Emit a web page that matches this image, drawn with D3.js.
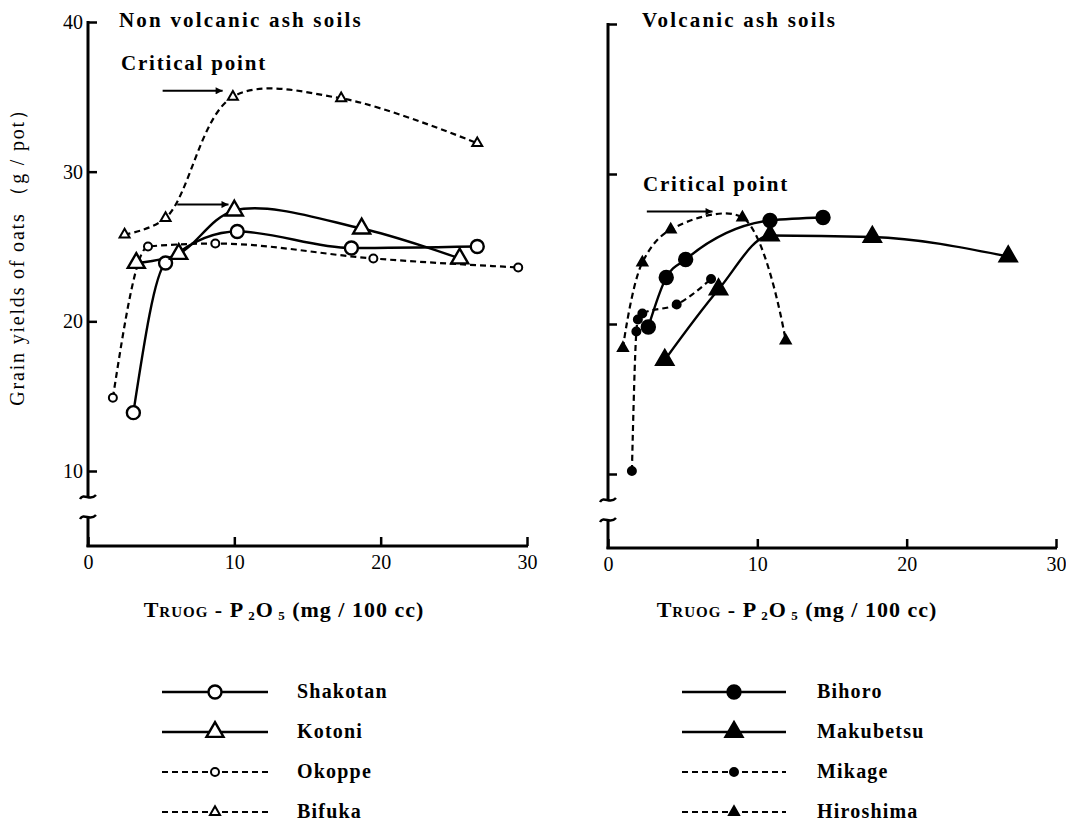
<!DOCTYPE html>
<html>
<head>
<meta charset="utf-8">
<script src="https://cdn.jsdelivr.net/npm/d3@7"></script>
<style>
  body { margin: 0; background: #fff; }
  svg { display: block; }
</style>
</head>
<body>
<svg id="chart" width="1066" height="825"></svg>
<script>
// ---------- data ----------
const xTicks = [0, 10, 20, 30];
const yTicks = [10, 20, 30, 40];

// Non volcanic ash soils
const shakotanX = [3.1, 5.3, 10.2, 18.0, 26.6];
const shakotanY = [13.9, 23.9, 26.0, 24.9, 25.0];
const kotoniX   = [3.3, 6.2, 10.0, 18.7, 25.4];
const kotoniY   = [23.9, 24.5, 27.4, 26.2, 24.2];
const okoppeX   = [1.7, 4.1, 8.7, 19.5, 29.4];
const okoppeY   = [14.9, 25.0, 25.2, 24.2, 23.6];
const bifukaX   = [2.5, 5.3, 9.9, 17.3, 26.6];
const bifukaY   = [25.8, 26.9, 35.0, 34.9, 31.9];

// Volcanic ash soils
const bihoroX    = [2.7, 3.9, 5.2, 10.85, 14.4];
const bihoroY    = [19.8, 23.1, 24.3, 26.9, 27.1];
const makubetsuX = [3.8, 7.4, 10.85, 17.7, 26.8];
const makubetsuY = [17.6, 22.3, 25.9, 25.8, 24.5];
const mikageX    = [1.6, 1.9, 2.0, 2.3, 4.6, 6.9];
const mikageY    = [10.2, 19.5, 20.3, 20.7, 21.3, 23.0];
const hiroshimaX = [1.0, 2.3, 4.2, 9.0, 11.9];
const hiroshimaY = [18.4, 24.1, 26.3, 27.1, 18.9];

// critical point arrows (data units)
const leftArrows  = [{x1: 5.1, x2: 9.2, y: 35.4}, {x1: 6.1, x2: 9.6, y: 27.8}];
const rightArrows = [{x1: 2.6, x2: 7.0, y: 27.5}];

const leftLegend  = ["Shakotan", "Kotoni", "Okoppe", "Bifuka"];
const rightLegend = ["Bihoro", "Makubetsu", "Mikage", "Hiroshima"];

const FONT = "Liberation Serif";

// ---------- styles ----------
const catmull = d3.curveCatmullRom.alpha(0.5);
const mono = d3.curveMonotoneX;
const styles = {
  Shakotan:  {dash: null,  shape: "circle",   big: true,  filled: false, curve: mono},
  Kotoni:    {dash: null,  shape: "triangle", big: true,  filled: false, curve: catmull},
  Okoppe:    {dash: "6,4", shape: "circle",   big: false, filled: false, curve: mono},
  Bifuka:    {dash: "6,4", shape: "triangle", big: false, filled: false, curve: catmull},
  Bihoro:    {dash: null,  shape: "circle",   big: true,  filled: true,  curve: mono},
  Makubetsu: {dash: null,  shape: "triangle", big: true,  filled: true,  curve: mono},
  Mikage:    {dash: "6,4", shape: "circle",   big: false, filled: true,  curve: mono},
  Hiroshima: {dash: "6,4", shape: "triangle", big: false, filled: true,  curve: catmull}
};

const zip = (xs, ys) => xs.map((x, i) => ({x, y: ys[i]}));
const leftSeries = [
  {name: "Shakotan", pts: zip(shakotanX, shakotanY)},
  {name: "Kotoni",   pts: zip(kotoniX, kotoniY)},
  {name: "Okoppe",   pts: zip(okoppeX, okoppeY)},
  {name: "Bifuka",   pts: zip(bifukaX, bifukaY)}
];
const rightSeries = [
  {name: "Bihoro",    pts: zip(bihoroX, bihoroY)},
  {name: "Makubetsu", pts: zip(makubetsuX, makubetsuY)},
  {name: "Mikage",    pts: zip(mikageX, mikageY)},
  {name: "Hiroshima", pts: zip(hiroshimaX, hiroshimaY)}
];

const svg = d3.select("#chart").attr("font-family", FONT);

svg.append("defs").append("marker")
  .attr("id", "arrow").attr("viewBox", "0 0 10 10")
  .attr("refX", 10).attr("refY", 5)
  .attr("markerWidth", 11).attr("markerHeight", 7)
  .attr("markerUnits", "userSpaceOnUse")
  .attr("orient", "auto")
  .append("path").attr("d", "M0,0 L10,5 L0,10 Z").attr("fill", "#000");

function symbolPath(st) {
  if (st.shape === "circle") {
    const r = st.big ? 6.5 : 4;
    return d3.symbol(d3.symbolCircle, Math.PI * r * r)();
  } else {
    const s = st.big ? 17 : 10;
    return d3.symbol(d3.symbolTriangle, Math.sqrt(3) / 4 * s * s)();
  }
}

function drawPanel(cfg) {
  const {x, y, axisY, series, title, titleX, critX, critY, arrows, labels, xLabelCx} = cfg;
  const g = svg.append("g");
  const x0 = x(0);

  // y axis (with break)
  const breakTop = y(10) + 26, breakBot = y(10) + 46;
  g.append("line").attr("x1", x0).attr("x2", x0).attr("y1", y(40) - 1).attr("y2", breakTop)
    .attr("stroke", "#000").attr("stroke-width", 3);
  g.append("line").attr("x1", x0).attr("x2", x0).attr("y1", breakBot).attr("y2", axisY + 1)
    .attr("stroke", "#000").attr("stroke-width", 3);
  const sq = (yy) => `M${x0 - 8},${yy + 2} C${x0 - 4},${yy - 5} ${x0 + 2},${yy + 5} ${x0 + 8},${yy - 2}`;
  g.append("path").attr("d", sq(breakTop)).attr("fill", "none").attr("stroke", "#000").attr("stroke-width", 2.5);
  g.append("path").attr("d", sq(breakBot)).attr("fill", "none").attr("stroke", "#000").attr("stroke-width", 2.5);

  const ya = d3.axisLeft(y).tickValues(yTicks).tickSize(-9).tickPadding(5)
    .tickFormat(labels ? d3.format("d") : () => "");
  const yg = g.append("g").attr("transform", `translate(${x0},0)`).call(ya);
  yg.attr("font-family", FONT);
  yg.select(".domain").remove();
  yg.selectAll(".tick line").attr("stroke", "#000").attr("stroke-width", 2.5);
  yg.selectAll(".tick text").attr("font-size", 20).attr("font-family", FONT).attr("fill", "#000");

  // x axis
  g.append("line").attr("x1", x0 - 1.5).attr("x2", x(30) + 1).attr("y1", axisY).attr("y2", axisY)
    .attr("stroke", "#000").attr("stroke-width", 3);
  const xa = d3.axisBottom(x).tickValues(xTicks).tickSize(-9).tickPadding(9).tickFormat(d3.format("d"));
  const xg = g.append("g").attr("transform", `translate(0,${axisY})`).call(xa);
  xg.attr("font-family", FONT);
  xg.select(".domain").remove();
  xg.selectAll(".tick line").attr("stroke", "#000").attr("stroke-width", 2.5);
  xg.selectAll(".tick text").attr("font-size", 20).attr("font-family", FONT).attr("fill", "#000");

  // x axis title
  const xt = g.append("text").attr("x", xLabelCx).attr("y", 617).attr("text-anchor", "middle")
    .attr("font-family", FONT).attr("font-size", 22).attr("font-weight", "bold").attr("letter-spacing", 1);
  xt.append("tspan").text("T");
  xt.append("tspan").attr("font-size", 15).text("RUOG");
  xt.append("tspan").text(" - P");
  xt.append("tspan").attr("font-size", 13).attr("dy", 3).text(" 2");
  xt.append("tspan").attr("dy", -3).text("O");
  xt.append("tspan").attr("font-size", 13).attr("dy", 3).text(" 5");
  xt.append("tspan").attr("dy", -3).text("  (mg / 100 cc)");

  // panel title & annotation
  g.append("text").attr("x", titleX).attr("y", 27).attr("font-family", FONT).attr("font-size", 21)
    .attr("font-weight", "bold").attr("letter-spacing", 2.2).text(title);
  g.append("text").attr("x", critX).attr("y", critY).attr("font-family", FONT).attr("font-size", 21)
    .attr("font-weight", "bold").attr("letter-spacing", 1.8).text("Critical point");
  g.selectAll(".arr").data(arrows).join("line")
    .attr("x1", d => x(d.x1)).attr("x2", d => x(d.x2))
    .attr("y1", d => y(d.y)).attr("y2", d => y(d.y))
    .attr("stroke", "#000").attr("stroke-width", 2).attr("marker-end", "url(#arrow)");

  // lines
  series.forEach(s => {
    const st = styles[s.name];
    const line = d3.line().x(d => x(d.x)).y(d => y(d.y)).curve(st.curve);
    g.append("path").attr("d", line(s.pts)).attr("fill", "none").attr("stroke", "#000")
      .attr("stroke-width", st.dash ? 2.2 : 2.4).attr("stroke-dasharray", st.dash);
  });
  // markers
  series.forEach(s => {
    const st = styles[s.name];
    g.selectAll(null).data(s.pts).join("path")
      .attr("d", symbolPath(st))
      .attr("transform", d => `translate(${x(d.x)},${y(d.y)})`)
      .attr("fill", st.filled ? "#000" : "#fff")
      .attr("stroke", "#000").attr("stroke-width", st.big ? 2.4 : 2);
  });
}

const xL = d3.scaleLinear().domain([0, 30]).range([88, 527]);
const yL = d3.scaleLinear().domain([10, 40]).range([471, 22]);
const xR = d3.scaleLinear().domain([0, 30]).range([608, 1056]);
const yR = d3.scaleLinear().domain([10, 40]).range([474, 24]);

drawPanel({x: xL, y: yL, axisY: 546, series: leftSeries, title: "Non volcanic ash soils", titleX: 119,
  critX: 121, critY: 70, arrows: leftArrows, labels: true, xLabelCx: 284});
drawPanel({x: xR, y: yR, axisY: 548, series: rightSeries, title: "Volcanic ash soils", titleX: 642,
  critX: 643, critY: 191, arrows: rightArrows, labels: false, xLabelCx: 797});

// y axis title
svg.append("text").attr("transform", "translate(24,252) rotate(-90)").attr("text-anchor", "middle")
  .attr("font-family", FONT).attr("font-size", 20).attr("letter-spacing", 1.8)
  .text("Grain yields of oats （g / pot）");

// legends
function drawLegend(names, lineX1, lineX2, labelX) {
  const ly = d3.scalePoint().domain(names).range([692, 812]);
  const lg = svg.append("g");
  names.forEach(n => {
    const st = styles[n];
    const yy = ly(n);
    lg.append("line").attr("x1", lineX1).attr("x2", lineX2).attr("y1", yy).attr("y2", yy)
      .attr("stroke", "#000").attr("stroke-width", st.dash ? 2 : 2.4).attr("stroke-dasharray", st.dash);
    lg.append("path").attr("d", symbolPath(st))
      .attr("transform", `translate(${(lineX1 + lineX2) / 2},${yy})`)
      .attr("fill", st.filled ? "#000" : "#fff").attr("stroke", "#000").attr("stroke-width", st.big ? 2.4 : 2);
    lg.append("text").attr("x", labelX).attr("y", yy + 6).attr("font-family", FONT).attr("font-size", 20)
      .attr("font-weight", "bold").attr("letter-spacing", 1.2).text(n);
  });
}
drawLegend(leftLegend, 162, 268, 297);
drawLegend(rightLegend, 682, 786, 817);
</script>
</body>
</html>
